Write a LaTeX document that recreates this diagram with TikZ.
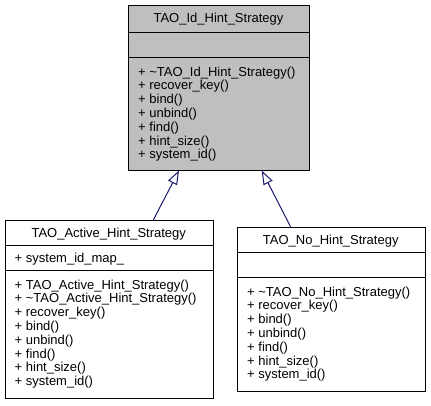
\documentclass[tikz,border=0pt]{standalone}
\usepackage{fontspec}
\setmainfont{Liberation Sans}
\usetikzlibrary{arrows.meta}
\definecolor{edgeblue}{HTML}{191970}
\definecolor{basegray}{HTML}{BFBFBF}
\tikzset{
  part/.style={draw=black, line width=1pt, inner sep=0pt, anchor=north west, minimum width=#1},
  title/.style={anchor=base, inner sep=0pt},
  lines/.style={anchor=base west, inner sep=0pt, align=left},
  inh/.style={draw=edgeblue, line width=1pt, -{Triangle[open, length=14pt, width=10pt, fill=white]}}
}
\begin{document}
\begin{tikzpicture}[x=1pt, y=-1pt, font=\fontsize{13}{13.8}\selectfont]
\useasboundingbox (0,0) rectangle (431,405);
% base class
\node[part=181pt, minimum height=26.5pt, fill=basegray] (idT) at (128,5) {};
\node[part=181pt, minimum height=25.5pt, fill=basegray] (idA) at (128,31.5) {};
\node[part=181pt, minimum height=112.5pt, fill=basegray] (idM) at (128,57) {};
\node[title] (idTt) at (218.5,22) {TAO\_Id\_Hint\_Strategy};
\node[lines] (idMt) at (138,158.8) {+ \textasciitilde TAO\_Id\_Hint\_Strategy()\\+ recover\_key()\\+ bind()\\+ unbind()\\+ find()\\+ hint\_size()\\+ system\_id()};
% active
\node[part=208.5pt, minimum height=25pt, fill=white] (acT) at (4.5,220) {};
\node[part=208.5pt, minimum height=25pt, fill=white] (acA) at (4.5,245) {};
\node[part=208.5pt, minimum height=128pt, fill=white] (acM) at (4.5,270) {};
\node[title] (acTt) at (108.75,237) {TAO\_Active\_Hint\_Strategy};
\node[lines] (acAt) at (14.5,262) {+ system\_id\_map\_};
\node[lines] (acMt) at (14.5,385.6) {+ TAO\_Active\_Hint\_Strategy()\\+ \textasciitilde TAO\_Active\_Hint\_Strategy()\\+ recover\_key()\\+ bind()\\+ unbind()\\+ find()\\+ hint\_size()\\+ system\_id()};
% no hint
\node[part=187.5pt, minimum height=25pt, fill=white] (noT) at (237,227) {};
\node[part=187.5pt, minimum height=25pt, fill=white] (noA) at (237,252) {};
\node[part=187.5pt, minimum height=114pt, fill=white] (noM) at (237,277) {};
\node[title] (noTt) at (330.75,244) {TAO\_No\_Hint\_Strategy};
\node[lines] (noMt) at (247,378.8) {+ \textasciitilde TAO\_No\_Hint\_Strategy()\\+ recover\_key()\\+ bind()\\+ unbind()\\+ find()\\+ hint\_size()\\+ system\_id()};
% inheritance
\draw[inh] ([xshift=148.8pt]acT.north west) -- ([xshift=51pt]idM.south west);
\draw[inh] ([xshift=53.7pt]noT.north west) -- ([xshift=133.7pt]idM.south west);
\end{tikzpicture}
\end{document}
